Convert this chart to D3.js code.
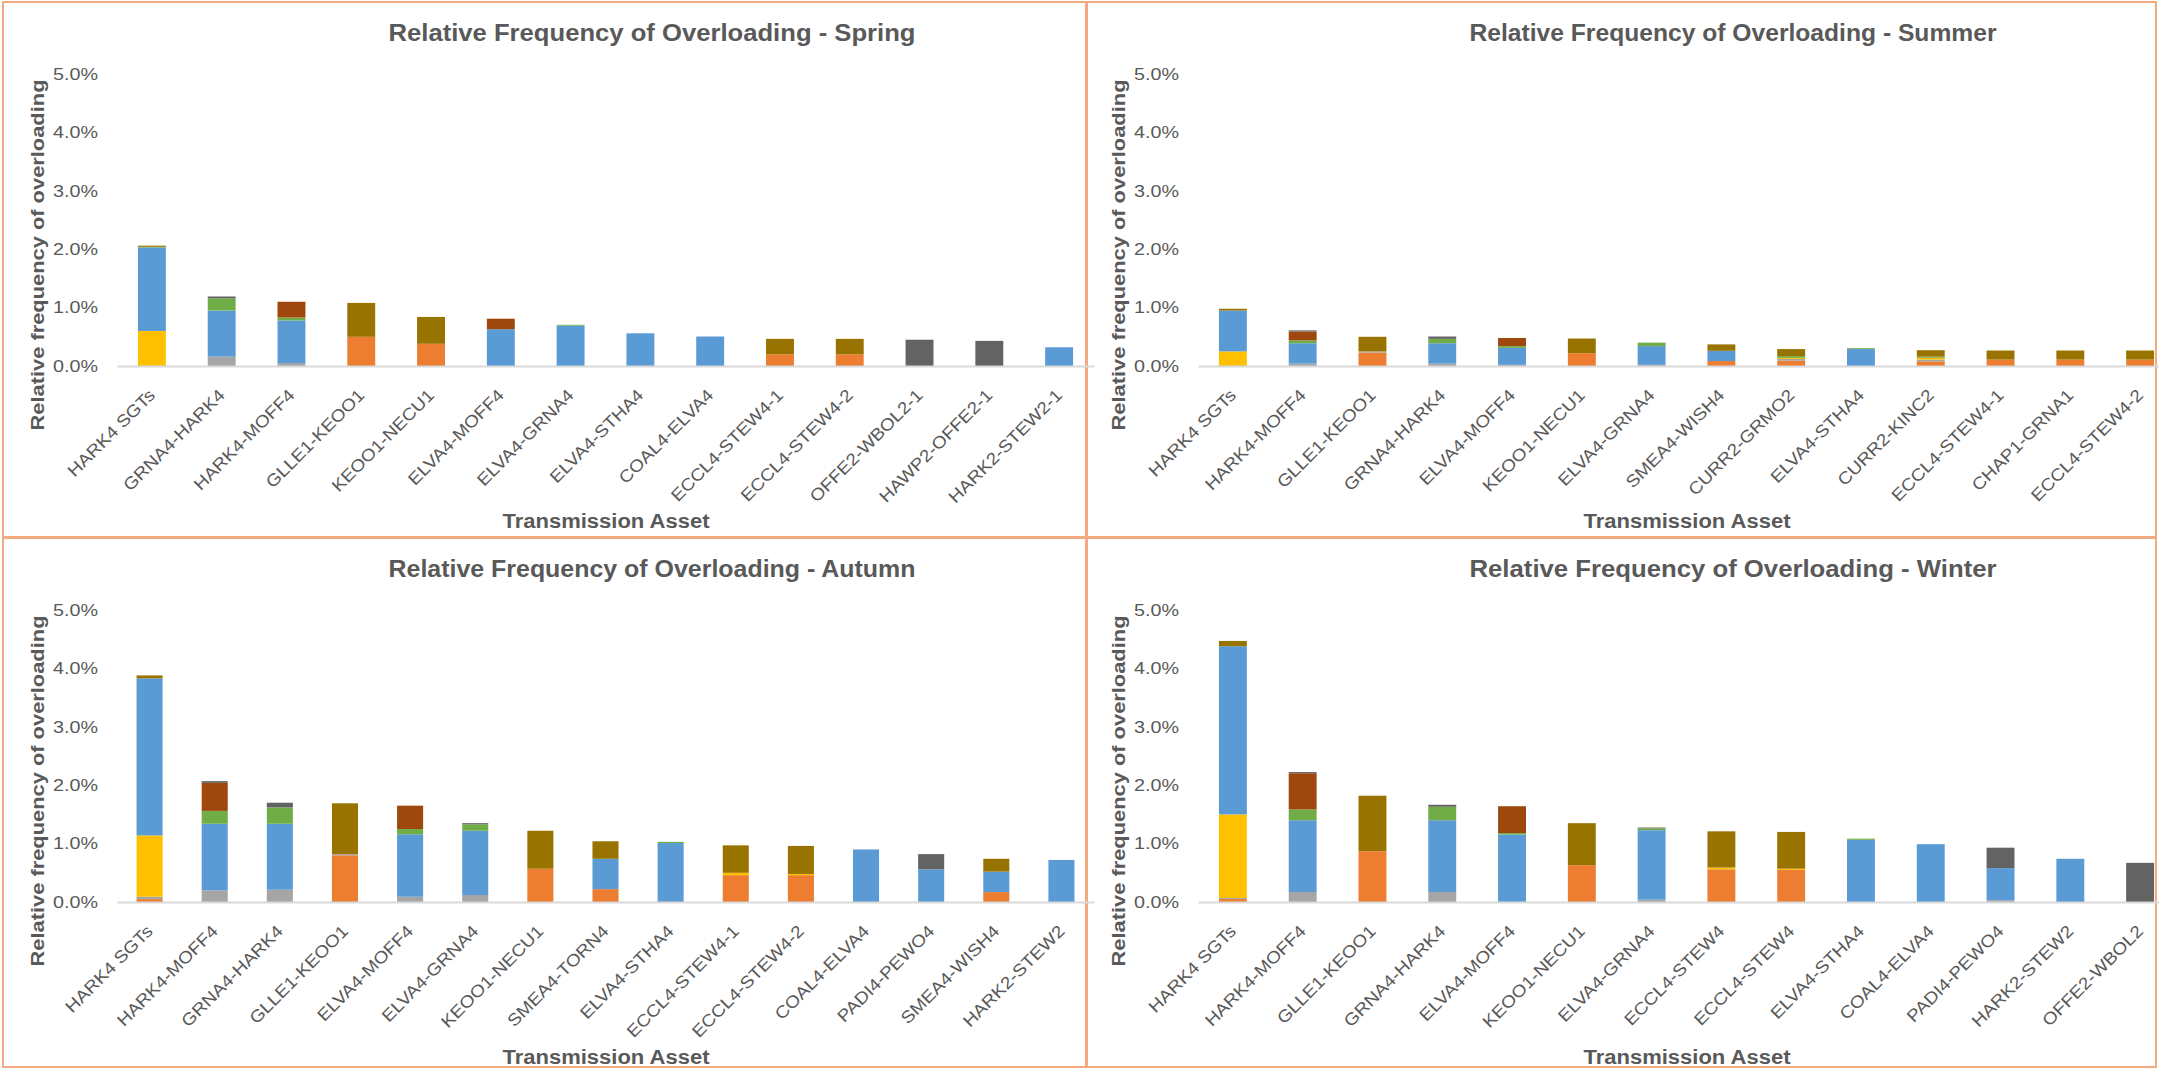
<!DOCTYPE html>
<html><head><meta charset="utf-8">
<script src="https://cdn.jsdelivr.net/npm/d3@7"></script>
<style>
html,body{margin:0;padding:0;background:#fff;}
svg{display:block;font-family:"Liberation Sans",Arial,sans-serif;}
</style></head>
<body>
<svg id="chart" width="2159" height="1069"></svg>
<script>
// Stack order bottom -> top
const seriesKeys = ["orange","gray","yellow","blue","green","brown","darkgray","olive"];
const seriesColors = ["#ED7D31","#A5A5A5","#FFC000","#5B9BD5","#70AD47","#9E480E","#636363","#997300"];
const yTicks = [0,1,2,3,4,5];

const springCategories = ["HARK4 SGTs","GRNA4-HARK4","HARK4-MOFF4","GLLE1-KEOO1","KEOO1-NECU1","ELVA4-MOFF4","ELVA4-GRNA4","ELVA4-STHA4","COAL4-ELVA4","ECCL4-STEW4-1","ECCL4-STEW4-2","OFFE2-WBOL2-1","HAWP2-OFFE2-1","HARK2-STEW2-1"];
const springValues = [
  [0,0,0.60,1.43,0.01,0,0,0.02],
  [0,0.16,0,0.79,0.21,0,0.03,0],
  [0,0.05,0,0.73,0.05,0.27,0,0],
  [0.50,0,0,0,0,0,0,0.58],
  [0.38,0,0,0,0,0,0,0.46],
  [0,0,0,0.63,0,0.18,0,0],
  [0,0,0,0.69,0.015,0,0,0],
  [0,0,0,0.56,0,0,0,0],
  [0,0,0,0.505,0,0,0,0],
  [0.20,0,0,0,0,0,0,0.265],
  [0.20,0,0,0,0,0,0,0.265],
  [0,0,0,0,0,0,0.45,0],
  [0,0,0,0,0,0,0.43,0],
  [0,0,0,0.32,0,0,0,0]
];

const summerCategories = ["HARK4 SGTs","HARK4-MOFF4","GLLE1-KEOO1","GRNA4-HARK4","ELVA4-MOFF4","KEOO1-NECU1","ELVA4-GRNA4","SMEA4-WISH4","CURR2-GRMO2","ELVA4-STHA4","CURR2-KINC2","ECCL4-STEW4-1","CHAP1-GRNA1","ECCL4-STEW4-2"];
const summerValues = [
  [0,0,0.25,0.70,0,0,0,0.03],
  [0,0.04,0,0.35,0.05,0.15,0.02,0],
  [0.23,0.02,0,0,0,0,0,0.25],
  [0,0.04,0,0.35,0.075,0,0.04,0],
  [0,0.02,0,0.29,0.03,0.14,0,0],
  [0.22,0,0,0,0,0,0,0.25],
  [0,0.02,0,0.32,0.06,0,0,0],
  [0.085,0,0,0.175,0,0,0,0.11],
  [0.09,0.03,0.02,0,0.03,0,0,0.12],
  [0,0,0,0.29,0.015,0,0,0],
  [0.08,0.03,0.03,0,0.02,0,0,0.11],
  [0.11,0,0,0,0,0,0,0.155],
  [0.11,0,0,0,0,0,0,0.155],
  [0.11,0,0,0,0,0,0,0.155]
];

const autumnCategories = ["HARK4 SGTs","HARK4-MOFF4","GRNA4-HARK4","GLLE1-KEOO1","ELVA4-MOFF4","ELVA4-GRNA4","KEOO1-NECU1","SMEA4-TORN4","ELVA4-STHA4","ECCL4-STEW4-1","ECCL4-STEW4-2","COAL4-ELVA4","PADI4-PEWO4","SMEA4-WISH4","HARK2-STEW2"];
const autumnValues = [
  [0.05,0.04,1.05,2.69,0,0,0,0.05],
  [0,0.20,0,1.14,0.22,0.48,0.03,0],
  [0,0.21,0,1.13,0.28,0,0.08,0],
  [0.80,0.02,0,0,0,0,0,0.87],
  [0,0.09,0,1.07,0.09,0.40,0,0],
  [0,0.12,0,1.10,0.11,0,0.02,0],
  [0.57,0,0,0,0,0,0,0.65],
  [0.22,0,0,0.52,0,0,0,0.30],
  [0,0,0,1.01,0.02,0,0,0],
  [0.46,0,0.04,0,0,0,0,0.47],
  [0.46,0,0.02,0,0,0,0,0.48],
  [0,0,0,0.90,0,0,0,0],
  [0,0,0,0.56,0,0,0.26,0],
  [0.17,0,0,0.35,0,0,0,0.22],
  [0,0,0,0.72,0,0,0,0]
];

const winterCategories = ["HARK4 SGTs","HARK4-MOFF4","GLLE1-KEOO1","GRNA4-HARK4","ELVA4-MOFF4","KEOO1-NECU1","ELVA4-GRNA4","ECCL4-STEW4","ECCL4-STEW4","ELVA4-STHA4","COAL4-ELVA4","PADI4-PEWO4","HARK2-STEW2","OFFE2-WBOL2"];
const winterValues = [
  [0.05,0.02,1.43,2.88,0,0,0,0.09],
  [0,0.17,0,1.23,0.185,0.62,0.02,0],
  [0.87,0,0,0,0,0,0,0.95],
  [0,0.17,0,1.23,0.23,0,0.035,0],
  [0,0,0,1.155,0.025,0.46,0,0],
  [0.63,0,0,0,0,0,0,0.72],
  [0,0.04,0,1.19,0.03,0,0.015,0],
  [0.56,0,0.03,0,0,0,0,0.62],
  [0.55,0,0.02,0,0,0,0,0.63],
  [0,0,0,1.065,0.02,0,0,0],
  [0,0,0,0.99,0,0,0,0],
  [0,0.03,0,0.55,0,0,0.35,0],
  [0,0,0,0.74,0,0,0,0],
  [0,0,0,0,0,0,0.67,0]
];

const panelTitles = ["Relative Frequency of Overloading - Spring","Relative Frequency of Overloading - Summer","Relative Frequency of Overloading - Autumn","Relative Frequency of Overloading - Winter"];
const yAxisTitle = "Relative frequency of overloading";
const xAxisTitle = "Transmission Asset";

const panels = [
  {title:panelTitles[0], cats:springCategories, vals:springValues, ox:0, oy:0},
  {title:panelTitles[1], cats:summerCategories, vals:summerValues, ox:1081, oy:0},
  {title:panelTitles[2], cats:autumnCategories, vals:autumnValues, ox:0, oy:536},
  {title:panelTitles[3], cats:winterCategories, vals:winterValues, ox:1081, oy:536}
];

const svg = d3.select("#chart");
const TEXT = "#595959";
function stretch(sel, k){
  sel.each(function(){
    const L = this.getComputedTextLength();
    d3.select(this).attr("textLength", L*k).attr("lengthAdjust","spacingAndGlyphs");
  });
}
function fitLen(sel, L){
  sel.attr("textLength", L).attr("lengthAdjust","spacingAndGlyphs");
}

// panel borders
const borderColor = "#F2AA80";
const borders = svg.append("g");
[[3,2,1083,535],[1087,2,1069,535],[3,538,1083,529],[1087,538,1069,529]].forEach(b=>{
  borders.append("rect").attr("x",b[0]).attr("y",b[1]).attr("width",b[2]).attr("height",b[3])
    .attr("fill","none").attr("stroke",borderColor).attr("stroke-width",2);
});

panels.forEach(p=>{
  const g = svg.append("g").attr("transform",`translate(${p.ox},${p.oy})`);
  const idx = p.cats.map((c,i)=>i);
  const x = d3.scaleBand().domain(idx).range([117,1094]).paddingInner(0.6).paddingOuter(0.3);
  const y = d3.scaleLinear().domain([0,5]).range([366,74]);

  const rows = p.vals.map((r,i)=>{ const o={i}; seriesKeys.forEach((k,j)=>o[k]=r[j]); return o; });
  const stacked = d3.stack().keys(seriesKeys)(rows);

  g.selectAll("g.series").data(stacked).join("g").attr("class","series")
    .attr("fill",(d,i)=>seriesColors[i])
    .selectAll("rect").data(d=>d).join("rect")
    .attr("x",d=>x(d.data.i)).attr("width",x.bandwidth())
    .attr("y",d=>y(d[1])).attr("height",d=>Math.max(0,y(d[0])-y(d[1])));

  // x axis
  const xa = g.append("g").attr("transform","translate(0,366)")
    .call(d3.axisBottom(x).tickSize(0).tickFormat(i=>p.cats[i]));
  xa.attr("font-family",null);
  xa.select(".domain").attr("stroke","#D9D9D9").attr("stroke-width",2);
  xa.selectAll("text").attr("fill",TEXT).attr("font-size",17)
    .attr("text-anchor","end").attr("dy","0.35em")
    .attr("transform",`translate(0,26) rotate(-45)`).attr("y",0).attr("x",0);
  stretch(xa.selectAll("text"), 1.12);

  // y axis
  const ya = g.append("g").attr("transform","translate(98,0)")
    .call(d3.axisLeft(y).tickValues(yTicks).tickSize(0).tickPadding(0).tickFormat(d=>d.toFixed(1)+"%"));
  ya.attr("font-family",null);
  ya.select(".domain").remove();
  ya.selectAll("text").attr("fill",TEXT).attr("font-size",16.5);
  fitLen(ya.selectAll("text"), 45);

  // titles
  const t = g.append("text").attr("x",652).attr("y",41).attr("text-anchor","middle")
    .attr("fill",TEXT).attr("font-size",23).attr("font-weight","bold").text(p.title);
  fitLen(t, 527);
  const yt = g.append("text").attr("transform","translate(37,255) rotate(-90)").attr("dy","0.35em")
    .attr("text-anchor","middle").attr("fill",TEXT).attr("font-size",19).attr("font-weight","bold").text(yAxisTitle);
  fitLen(yt, 351);
  const xt = g.append("text").attr("x",606).attr("y",528).attr("text-anchor","middle")
    .attr("fill",TEXT).attr("font-size",20).attr("font-weight","bold").text(xAxisTitle);
  fitLen(xt, 207);
});
</script>
</body></html>
